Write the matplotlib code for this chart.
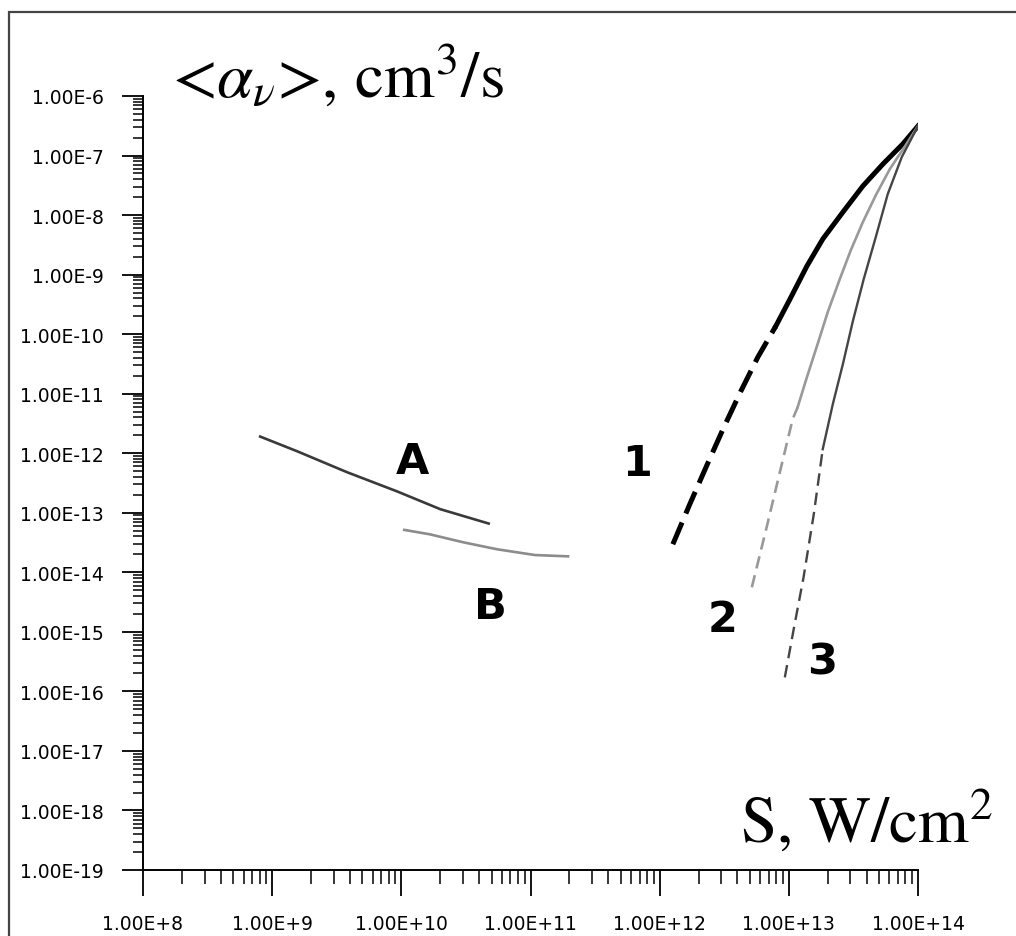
import numpy as np
import matplotlib
matplotlib.use('Agg')
import matplotlib.pyplot as plt
from matplotlib.ticker import LogLocator, FuncFormatter, NullFormatter

plt.rcParams['mathtext.fontset'] = 'stix'
plt.rcParams['lines.scale_dashes'] = False

# ------------------------------------------------------------
# Data (S in W/cm^2, <alpha_nu> in cm^3/s)
# ------------------------------------------------------------
a_s = [7.9e8, 1.56e9, 3.8e9, 9.25e9, 2.0e10, 4.85e10]
a_alpha = [1.94e-12, 1.08e-12, 4.8e-13, 2.29e-13, 1.15e-13, 6.5e-14]

b_s = [1.03e10, 1.66e10, 3.0e10, 5.5e10, 1.08e11, 2.0e11]
b_alpha = [5.2e-14, 4.35e-14, 3.2e-14, 2.44e-14, 1.95e-14, 1.85e-14]

# curve 1: solid part and dashed (extrapolated) part
c1_s = [7.92e12, 1.02e13, 1.38e13, 1.83e13, 2.62e13, 3.74e13, 5.35e13,
        7.62e13, 1.0e14]
c1_alpha = [1.36e-10, 3.87e-10, 1.39e-9, 3.95e-9, 1.12e-8, 3.07e-8,
            7.19e-8, 1.56e-7, 3.13e-7]
c1d_s = [1.265e12, 1.71e12, 2.32e12, 3.14e12, 4.25e12, 5.75e12, 7.92e12]
c1d_alpha = [2.96e-14, 1.39e-13, 6.28e-13, 2.73e-12, 1.10e-11, 4.10e-11,
             1.36e-10]

# curve 2
c2_s = [1.17e13, 1.38e13, 1.65e13, 2.0e13, 2.48e13, 3.02e13, 3.74e13,
        4.72e13, 6.05e13, 7.78e13, 1.0e14]
c2_alpha = [5.93e-12, 1.89e-11, 6.28e-11, 2.34e-10, 8.4e-10, 2.58e-9,
            7.6e-9, 2.17e-8, 5.93e-8, 1.34e-7, 3.13e-7]
c2d_s = [5.17e12, 6.76e12, 8.52e12, 1.07e13, 1.17e13]
c2d_alpha = [5.6e-15, 5.93e-14, 4.8e-13, 3.72e-12, 5.93e-12]

# curve 3
c3_s = [1.83e13, 2.19e13, 2.62e13, 3.13e13, 3.80e13, 4.71e13, 5.83e13,
        7.49e13, 1.0e14]
c3_alpha = [1.17e-12, 6.67e-12, 3.13e-11, 1.65e-10, 8.4e-10, 4.27e-9,
            2.25e-8, 9.44e-8, 3.13e-7]
c3d_s = [9.31e12, 1.09e13, 1.30e13, 1.56e13, 1.83e13]
c3d_alpha = [1.72e-16, 1.10e-15, 8.24e-15, 9.44e-14, 1.17e-12]

x_range = (1e8, 1e14)
y_range = (1e-19, 1e-6)

# ------------------------------------------------------------
# Figure
# ------------------------------------------------------------
fig = plt.figure(figsize=(10.16, 9.37), dpi=100)
ax = fig.add_axes([143 / 1016, 66 / 937, 775 / 1016, 774 / 937])
ax.set_xscale('log')
ax.set_yscale('log')
ax.set_xlim(*x_range)
ax.set_ylim(*y_range)

ax.plot(a_s, a_alpha, color='#3a3a3a', lw=1.9, solid_capstyle='butt')
ax.plot(b_s, b_alpha, color='#8c8c8c', lw=1.9, solid_capstyle='butt')

ax.plot(c1_s, c1_alpha, color='black', lw=3.6)
ax.plot(c1d_s, c1d_alpha, color='black', lw=3.6, dashes=(17, 7))
ax.plot(c2_s, c2_alpha, color='#999999', lw=1.9)
ax.plot(c2d_s, c2d_alpha, color='#999999', lw=1.9, dashes=(9, 5))
ax.plot(c3_s, c3_alpha, color='#454545', lw=1.7)
ax.plot(c3d_s, c3d_alpha, color='#454545', lw=1.7, dashes=(9, 5))

# curve labels
lab = dict(fontsize=31, fontweight='bold', family='DejaVu Sans',
           ha='center', va='center', transform=ax.transAxes)
ax.text(0.347, 0.528, 'A', **lab)
ax.text(0.448, 0.341, 'B', **lab)
ax.text(0.637, 0.526, '1', **lab)
ax.text(0.748, 0.324, '2', **lab)
ax.text(0.876, 0.270, '3', **lab)

# ------------------------------------------------------------
# Axes styling
# ------------------------------------------------------------
for side in ['top', 'right']:
    ax.spines[side].set_visible(False)
for side in ['left', 'bottom']:
    ax.spines[side].set_linewidth(1.4)

ax.xaxis.set_major_locator(LogLocator(base=10, numticks=20))
ax.yaxis.set_major_locator(LogLocator(base=10, numticks=30))
ax.xaxis.set_minor_locator(LogLocator(base=10, subs=np.arange(2, 10), numticks=20))
ax.yaxis.set_minor_locator(LogLocator(base=10, subs=np.arange(2, 10), numticks=30))
ax.xaxis.set_minor_formatter(NullFormatter())
ax.yaxis.set_minor_formatter(NullFormatter())


def sci_label(v, pos):
    e = int(round(np.log10(v)))
    return '1.00E%s%d' % ('+' if e >= 0 else '-', abs(e))


ax.xaxis.set_major_formatter(FuncFormatter(sci_label))
ax.yaxis.set_major_formatter(FuncFormatter(sci_label))

ax.tick_params(axis='x', which='major', length=19, width=1.3, pad=13,
               labelsize=13.5)
ax.tick_params(axis='x', which='minor', length=10, width=1.1)
ax.tick_params(axis='y', which='major', length=15, width=1.3, pad=13,
               labelsize=13.5)
ax.tick_params(axis='y', which='minor', length=7, width=1.1)
for t in ax.get_xticklabels() + ax.get_yticklabels():
    t.set_family('DejaVu Sans')

# axis titles
fig.text(172 / 1016, 1 - 98 / 937, r'<$\alpha_{\nu}$>, cm$^{3}$/s',
         family='STIXGeneral', fontsize=47, ha='left', va='baseline')
fig.text(740 / 1016, 1 - 843 / 937, r'S, W/cm$^{2}$',
         family='STIXGeneral', fontsize=47, ha='left', va='baseline')

# outer frame (left and top edges visible)
frame = plt.Rectangle((9 / 1016, -0.2), 1.2, (937 - 13) / 937 + 0.2,
                      transform=fig.transFigure, fill=False,
                      edgecolor='#444444', lw=1.6, clip_on=False)
fig.patches.append(frame)

fig.savefig('out.png', dpi=100)
